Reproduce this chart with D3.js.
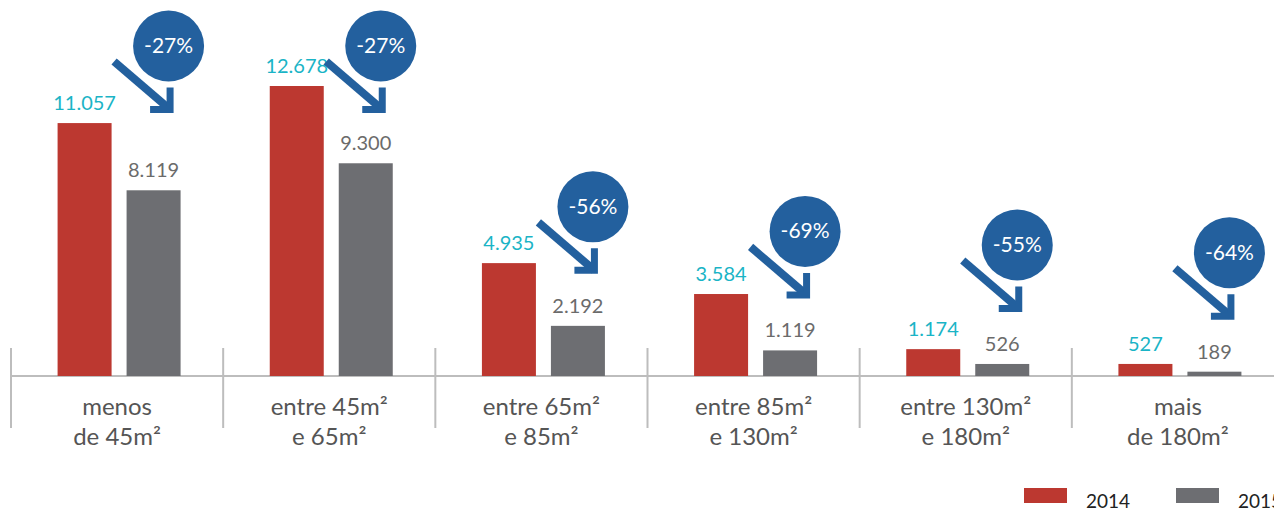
<!DOCTYPE html>
<html>
<head>
<meta charset="utf-8">
<script src="https://cdn.jsdelivr.net/npm/d3@7"></script>
<style>
  body { margin: 0; background: #fff; }
  svg { display: block; font-family: "Lato", "Open Sans", sans-serif; }
</style>
</head>
<body>
<div class="chart"></div>
<script>
// data
var categories = ["menos de 45m²", "entre 45m² e 65m²", "entre 65m² e 85m²", "entre 85m² e 130m²", "entre 130m² e 180m²", "mais de 180m²"];
var categoryLines = [["menos", "de 45m²"], ["entre 45m²", "e 65m²"], ["entre 65m²", "e 85m²"], ["entre 85m²", "e 130m²"], ["entre 130m²", "e 180m²"], ["mais", "de 180m²"]];
var years = ["2014", "2015"];
var values2014 = [11057, 12678, 4935, 3584, 1174, 527];
var values2015 = [8119, 9300, 2192, 1119, 526, 189];

var svgWidth = 1274;
var svgHeight = 509;
var baseline = 376;

var colors = { "2014": "#bc3830", "2015": "#6d6e72" };
var labelColors = { "2014": "#1ab4c6", "2015": "#6b6b6b" };

var fmt = function (v) {
  return d3.format(",")(v).replace(/,/g, ".");
};

var svg = d3
  .select(".chart")
  .append("svg")
  .attr("width", svgWidth)
  .attr("height", svgHeight);

// scales
var x = d3.scaleBand().domain(categories).range([11, 1284]);
var xInner = d3.scaleBand().domain(years).range([-59.5, 63.5]).paddingInner(15 / 69);
var y = d3.scaleLinear().domain([0, d3.max(values2014)]).range([baseline, 86]);

var rows = categories.map(function (c, i) {
  return { cat: c, lines: categoryLines[i], v2014: values2014[i], v2015: values2015[i] };
});

// axis line + dividers
svg.append("line")
  .attr("x1", 11).attr("x2", svgWidth)
  .attr("y1", baseline).attr("y2", baseline)
  .attr("stroke", "#bdbdbd").attr("stroke-width", 2);

svg.selectAll(".divider")
  .data(categories)
  .enter()
  .append("line")
  .attr("class", "divider")
  .attr("x1", (d) => x(d)).attr("x2", (d) => x(d))
  .attr("y1", 348).attr("y2", 428)
  .attr("stroke", "#bdbdbd").attr("stroke-width", 2);

// bars
var groups = svg.selectAll(".grp")
  .data(rows)
  .enter()
  .append("g")
  .attr("class", "grp")
  .attr("transform", (d) => `translate(${x(d.cat) + x.bandwidth() / 2}, 0)`);

years.forEach(function (yr) {
  groups.append("rect")
    .attr("x", xInner(yr))
    .attr("width", xInner.bandwidth())
    .attr("y", (d) => y(d["v" + yr]))
    .attr("height", (d) => baseline - y(d["v" + yr]))
    .attr("fill", colors[yr]);

  groups.append("text")
    .attr("x", xInner(yr) + xInner.bandwidth() / 2)
    .attr("y", (d) => y(d["v" + yr]) - 13)
    .attr("text-anchor", "middle")
    .attr("font-size", 20)
    .attr("fill", labelColors[yr])
    .text((d) => fmt(d["v" + yr]));
});

// category labels
groups.each(function (d) {
  var t = d3.select(this).append("text")
    .attr("text-anchor", "middle")
    .attr("font-size", 24)
    .attr("fill", "#555");
  d.lines.forEach(function (l, i) {
    t.append("tspan").attr("x", 0).attr("y", 415 + i * 30).text(l);
  });
});

// change badges: arrow + circle
var grayCenter = xInner("2015") + xInner.bandwidth() / 2;
groups.each(function (d) {
  var g = d3.select(this);
  var tipX = grayCenter + 20;
  // tall bars: badge parked near the top of the chart
  var tipY = y(d.v2015) - 52 < 150 ? 113 : y(d.v2015) - 52;
  var ax = tipX - 3.5, ay = tipY - 3.5;
  g.append("path")
    .attr("d", `M${ax - 56},${ay - 48}L${ax},${ay}`)
    .attr("stroke", "#23609e").attr("stroke-width", 8).attr("fill", "none");
  g.append("path")
    .attr("d", `M${ax - 20},${ay}L${ax},${ay}L${ax},${ay - 22}`)
    .attr("stroke", "#23609e").attr("stroke-width", 7).attr("fill", "none")
    .attr("stroke-linejoin", "miter");
  g.append("circle")
    .attr("cx", tipX - 5).attr("cy", tipY - 67).attr("r", 35.5)
    .attr("fill", "#23609e");
  var pct = Math.round((d.v2015 - d.v2014) / d.v2014 * 100);
  g.append("text")
    .attr("x", tipX - 5).attr("y", tipY - 67 + 7)
    .attr("text-anchor", "middle")
    .attr("font-size", 21)
    .attr("fill", "#fff")
    .text(pct + "%");
});

// legend
var legend = svg.append("g").attr("transform", "translate(1024, 488)");
years.forEach(function (yr, i) {
  legend.append("rect")
    .attr("x", i * 152).attr("y", 0)
    .attr("width", 43).attr("height", 15)
    .attr("fill", colors[yr]);
  legend.append("text")
    .attr("x", i * 152 + 62).attr("y", 20)
    .attr("font-size", 19)
    .attr("fill", "#222")
    .text(yr);
});
</script>
</body>
</html>
